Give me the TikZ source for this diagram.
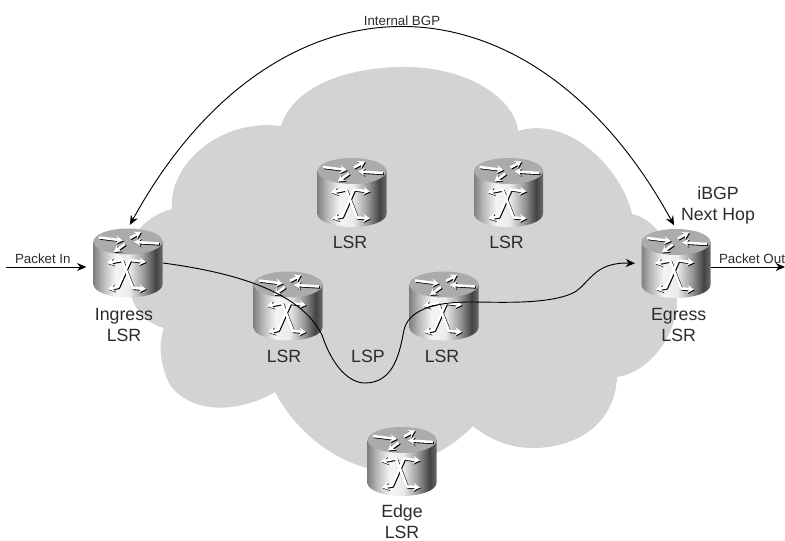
\documentclass[tikz,border=0pt]{standalone}
\usepackage{fontspec}
\setmainfont{Liberation Sans}
\usetikzlibrary{arrows.meta}
\definecolor{cloudgray}{HTML}{D2D3D5}
\definecolor{inktext}{HTML}{2B2B2B}
\pgfdeclarehorizontalshading{routerbody}{100bp}{color(0bp)=(black!50); color(25bp)=(black!50); color(31bp)=(black!30); color(41bp)=(black!4); color(51bp)=(black!8); color(62bp)=(black!42); color(70bp)=(black!74); color(75bp)=(black!58); color(100bp)=(black!58)}
\tikzstyle{routerbox} = [rectangle, minimum width=52.5pt, minimum height=52pt, inner sep=0pt, outer sep=0pt]
\tikzstyle{biglabel} = [text=inktext, align=center, inner sep=0pt, font=\fontsize{13.3}{15.8}\selectfont]
\tikzstyle{smalllabel} = [text=inktext, inner sep=2pt, font=\fontsize{10}{12}\selectfont]
\tikzstyle{arrow} = [line width=0.7pt,->,>={Stealth[length=7pt,width=6pt]}]
\tikzstyle{twoway} = [line width=0.7pt,<->,>={Stealth[length=7pt,width=6pt]},shorten <=3pt,shorten >=3pt]
\tikzstyle{glyph} = [line width=1.9pt,line join=round,>={Stealth[length=5pt,width=6pt]}]

% one router: named box, body, top face and the white arrows
\newcommand{\router}[2]{
	\node (#1) [routerbox] at (#2) {};
	\begin{scope}[shift={(#2)}]
		\shade[shading=routerbody] (-34.5,-21.5) -- (-34.5,21.5) arc[start angle=180,end angle=0,x radius=34.5,y radius=13] -- (34.5,-21.5) -- cycle;
		\fill[black!33] (0,-21.5) ellipse [x radius=34.5,y radius=13];
		\foreach \col/\off in {black/0.9,white/0}{
			\begin{scope}[shift={(\off,\off)}]
				\draw[glyph,\col,->] (-29,-25.5) -- (-5,-22.5);
				\draw[glyph,\col,->] (2,-25) -- (13,-31);
				\draw[glyph,\col,->] (31,-19.5) -- (6,-21);
				\draw[glyph,\col,->] (-3,-19) -- (-14,-11);
				\draw[glyph,\col,<->] (-21,0) -- (-6,-3) -- (5,25) -- (18,26);
				\draw[glyph,\col,<->] (18,-1) -- (2,-3) -- (-10,24) -- (-20,26);
			\end{scope}
		}
	\end{scope}
}

\begin{document}
\begin{tikzpicture}[x=0.75pt,y=-0.75pt,node distance=37.5pt]
	\useasboundingbox (0,0) rectangle (785,541);

	% Draw the cloud
	\fill[cloudgray] (140,228) .. controls (150,218) and (160,212) .. (172,209)
		.. controls (168,165) and (220,118) .. (281,126)
		.. controls (292,90) and (340,67) .. (405,67)
		.. controls (470,67) and (515,100) .. (518,131)
		.. controls (570,115) and (622,170) .. (632,214)
		.. controls (665,222) and (675,260) .. (677,300)
		.. controls (677,335) and (650,372) .. (617,377)
		.. controls (615,425) and (575,448) .. (533,448)
		.. controls (510,448) and (490,440) .. (473,426)
		.. controls (450,450) and (410,472) .. (367,468)
		.. controls (330,458) and (295,430) .. (275,392)
		.. controls (245,410) and (195,418) .. (170,385)
		.. controls (160,365) and (158,345) .. (164,328)
		.. controls (148,324) and (135,310) .. (132,298) -- cycle;

	% Draw the nodes
	\router{ingress}{128,263}
	\router{lsrtop}{352,192.5}
	\router{lsrright}{508.5,192.5}
	\router{lsrleft}{288,306}
	\router{lsrmid}{444,306}
	\router{egress}{676,263.5}
	\router{edge}{402,461.5}

	\node (ingresslabel) [biglabel, below of=ingress, xshift=-3pt, yshift=-8.8pt] {Ingress\\LSR};
	\node (lsrtoplabel) [biglabel, below of=lsrtop, xshift=-1.5pt] {LSR};
	\node (lsrrightlabel) [biglabel, below of=lsrright, xshift=-1.5pt] {LSR};
	\node (lsrleftlabel) [biglabel, below of=lsrleft, xshift=-3pt] {LSR};
	\node (lsrmidlabel) [biglabel, below of=lsrmid, xshift=-1.5pt] {LSR};
	\node (lsplabel) [biglabel, right of=lsrleft, xshift=22.5pt, yshift=-37.5pt] {LSP};
	\node (egresslabel) [biglabel, below of=egress, xshift=2pt, yshift=-8.8pt] {Egress\\LSR};
	\node (edgelabel) [biglabel, below of=edge, yshift=-7.8pt] {Edge\\LSR};
	\node (nexthop) [biglabel] at (718,205.5) {iBGP\\Next Hop};

	\coordinate (pktin) at (6,267);
	\coordinate (pktout) at (785,267);

	% Draw the arrows
	\draw [arrow,shorten >=5pt] (pktin) -- node[smalllabel, anchor=south, xshift=-5pt] {Packet In} (pktin -| ingress.west);
	\draw [arrow] (egress.east |- pktout) -- node[smalllabel, anchor=south, xshift=3pt] {Packet Out} (pktout);
	\draw [twoway] (ingress.north) .. controls (274,-38) and (530,-38) .. node[smalllabel, anchor=south] {Internal BGP} (egress.north);
	\draw [arrow,shorten >=4.5pt] (ingress.east) .. controls (230,272) and (300,290) .. (322,335)
		.. controls (333,368) and (350,383) .. (365,383)
		.. controls (395,383) and (400,350) .. (404,330)
		.. controls (408,312) and (430,302) .. (470,302)
		.. controls (500,302) and (550,305) .. (575,292)
		.. controls (590,282) and (595,262) .. (egress.west);
\end{tikzpicture}
\end{document}
